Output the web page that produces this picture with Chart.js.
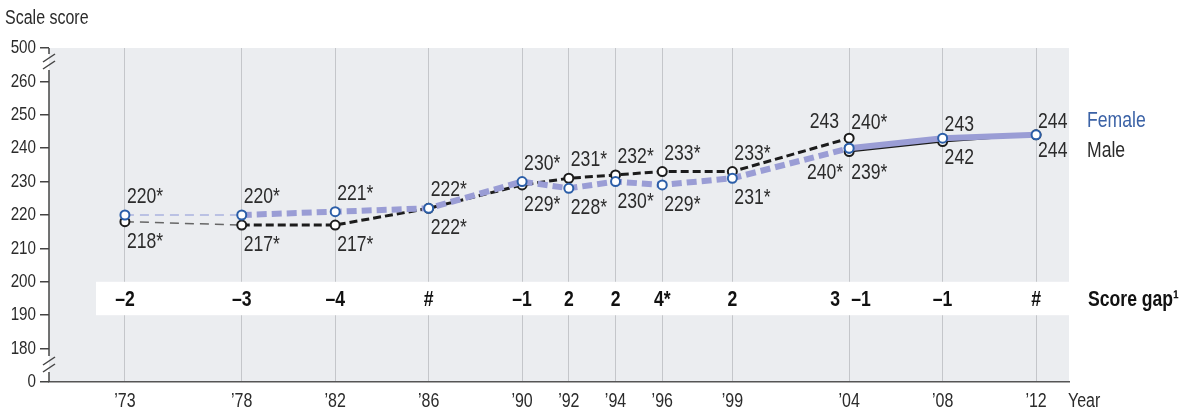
<!DOCTYPE html>
<html>
<head>
<meta charset="utf-8">
<script src="https://cdn.jsdelivr.net/npm/chart.js@4.4.1/dist/chart.umd.min.js"></script>
<style>
  html, body { margin: 0; padding: 0; background: #fff; }
</style>
</head>
<body>
<canvas id="chart" width="1193" height="413"></canvas>
<script>
// data
const yearsOld = [1973, 1978, 1982, 1986, 1990, 1992, 1994, 1996, 1999, 2004];
const yearsNew = [2004, 2008, 2012];
const femaleOld = [220, 220, 221, 222, 230, 228, 230, 229, 231, 240];
const maleOld = [218, 217, 217, 222, 229, 231, 232, 233, 233, 243];
const femaleNew = [240, 243, 244];
const maleNew = [239, 242, 244];
const femaleOldText = ['220*', '220*', '221*', '222*', '230*', '228*', '230*', '229*', '231*', '240*'];
const maleOldText = ['218*', '217*', '217*', '222*', '229*', '231*', '232*', '233*', '233*', '243'];
const femaleNewText = ['240*', '243', '244'];
const maleNewText = ['239*', '242', '244'];
const gapYears = [1973, 1978, 1982, 1986, 1990, 1992, 1994, 1996, 1999, 2004, 2004, 2008, 2012];
const gapText = ['–2', '–3', '–4', '#', '–1', '2', '2', '4*', '2', '3', '–1', '–1', '#'];
const tickYears = [1973, 1978, 1982, 1986, 1990, 1992, 1994, 1996, 1999, 2004, 2008, 2012];
const yTickText = { 170: '0', 270: '500' };

// label placement (a = above, b = below, l/r = left/right of point, A/B = tight)
const femaleOldPos = ['a', 'a', 'a', 'a', 'a', 'b', 'b', 'b', 'b', 'bl'];
const maleOldPos = ['b', 'b', 'b', 'b', 'b', 'a', 'a', 'a', 'a', 'al'];
const femaleNewPos = ['ar', 'A', 'A'];
const maleNewPos = ['br', 'B', 'B'];
const gapAlign = ['center', 'center', 'center', 'center', 'center', 'center', 'center', 'center', 'center', 'right', 'left', 'center', 'center'];

const FONT = '"Liberation Sans", Arial, sans-serif';
const SQUEEZE = 0.8; // fake a condensed face
const TEXT = '#2b2b2b';
const FEMALE_LINE = '#9a9dd5';
const FEMALE_DOT = '#2b5ea8';
const MALE = '#1c1c1c';

const toPts = (xs, ys) => xs.map((x, i) => ({ x: x, y: ys[i] }));

// narrow text: draw squeezed horizontally around the anchor point
function cText(ctx, txt, x, y, align, size, bold, color) {
  ctx.save();
  ctx.font = (bold ? 'bold ' : '') + size + 'px ' + FONT;
  ctx.fillStyle = color;
  ctx.textAlign = align;
  ctx.textBaseline = 'middle';
  ctx.translate(x, y);
  ctx.scale(SQUEEZE, 1);
  ctx.fillText(txt, 0, 0);
  ctx.restore();
}

const plotBack = {
  id: 'plotBack',
  beforeDraw(chart) {
    const { ctx, chartArea: a } = chart;
    ctx.save();
    ctx.fillStyle = '#ebedf0';
    ctx.fillRect(a.left, a.top, a.right - a.left, a.bottom - a.top);
    ctx.restore();
  }
};

const gapBand = {
  id: 'gapBand',
  beforeDatasetsDraw(chart) {
    const { ctx, chartArea: a, scales } = chart;
    const y1 = scales.y.getPixelForValue(200);
    const y2 = scales.y.getPixelForValue(190);
    ctx.save();
    ctx.fillStyle = '#ffffff';
    ctx.fillRect(96, y1, a.right - 96, y2 - y1);
    ctx.restore();
    const yc = (y1 + y2) / 2 + 1;
    gapYears.forEach((yr, i) => {
      let x = scales.x.getPixelForValue(yr);
      if (gapAlign[i] === 'right') x -= 9;
      if (gapAlign[i] === 'left') x += 2;
      cText(ctx, gapText[i], x, yc, gapAlign[i], 22, true, '#111');
    });
    cText(ctx, 'Score gap¹', 1088, yc, 'left', 22, true, '#111');
  }
};

// tick labels, placed from the library's scales
const tickText = {
  id: 'tickText',
  afterDraw(chart) {
    const { ctx, chartArea: a, scales } = chart;
    scales.x.ticks.forEach(t => {
      cText(ctx, '’' + String(t.value).slice(2), scales.x.getPixelForValue(t.value), a.bottom + 19, 'center', 20, false, TEXT);
    });
    scales.y.ticks.forEach(t => {
      const s = yTickText[t.value] !== undefined ? yTickText[t.value] : String(t.value);
      cText(ctx, s, 36, scales.y.getPixelForValue(t.value), 'right', 19, false, TEXT);
    });
    cText(ctx, 'Year', 1068, a.bottom + 19, 'left', 20, false, TEXT);
    cText(ctx, 'Scale score', 5, 18, 'left', 20, false, TEXT);
  }
};

const valueLabels = {
  id: 'valueLabels',
  afterDatasetsDraw(chart) {
    const { ctx } = chart;
    chart.data.datasets.forEach((ds, di) => {
      const meta = chart.getDatasetMeta(di);
      meta.data.forEach((pt, i) => {
        const pos = ds.labelPos[i];
        let x = pt.x + 2, y = pt.y, align = 'left';
        if (pos === 'a') y -= 18;
        else if (pos === 'b') y += 20;
        else if (pos === 'A') y -= 13;
        else if (pos === 'B') y += 16;
        else if (pos === 'al') { align = 'right'; x = pt.x - 10; y -= 16; }
        else if (pos === 'bl') { align = 'right'; x = pt.x - 6; y += 25; }
        else if (pos === 'ar') { y -= 25; }
        else if (pos === 'br') { y += 21; }
        cText(ctx, ds.labelText[i], x, y, align, 22, false, TEXT);
      });
    });
    cText(ctx, 'Female', 1087, 121, 'left', 22, false, '#3b62a6');
    cText(ctx, 'Male', 1087, 151, 'left', 22, false, TEXT);
  }
};

// y axis line with the two breaks
const axisBreaks = {
  id: 'axisBreaks',
  afterDraw(chart) {
    const { ctx, chartArea: a } = chart;
    const x = a.left;
    ctx.save();
    ctx.strokeStyle = '#444';
    ctx.lineWidth = 1.5;
    [[a.top, 54], [70, 356], [372, a.bottom]].forEach(s => {
      ctx.beginPath();
      ctx.moveTo(x, s[0]);
      ctx.lineTo(x, s[1]);
      ctx.stroke();
    });
    [58, 65, 361, 368].forEach(y => {
      ctx.beginPath();
      ctx.moveTo(x - 6, y + 4);
      ctx.lineTo(x + 6, y - 4);
      ctx.stroke();
    });
    ctx.restore();
  }
};

const firstSeg = (a, b) => c => (c.p0DataIndex === 0 ? a : b);

new Chart(document.getElementById('chart'), {
  type: 'line',
  data: {
    datasets: [
      {
        label: 'Female revised',
        data: toPts(yearsNew, femaleNew),
        labelText: femaleNewText,
        labelPos: femaleNewPos,
        borderColor: FEMALE_LINE,
        borderWidth: 6,
        pointBorderColor: FEMALE_DOT,
        pointBackgroundColor: '#fff',
        pointBorderWidth: 2,
        pointRadius: 4.5
      },
      {
        label: 'Female',
        data: toPts(yearsOld, femaleOld),
        labelText: femaleOldText,
        labelPos: femaleOldPos,
        borderColor: FEMALE_LINE,
        borderWidth: 6,
        borderDash: [10, 5],
        segment: {
          borderWidth: firstSeg(1.5, 6),
          borderColor: firstSeg('#aab2de', FEMALE_LINE),
          borderDash: firstSeg([9, 6], [10, 5])
        },
        pointBorderColor: FEMALE_DOT,
        pointBackgroundColor: '#fff',
        pointBorderWidth: 2,
        pointRadius: 4.5
      },
      {
        label: 'Male revised',
        data: toPts(yearsNew, maleNew),
        labelText: maleNewText,
        labelPos: maleNewPos,
        borderColor: MALE,
        borderWidth: 2,
        pointBorderColor: MALE,
        pointBackgroundColor: '#fff',
        pointBorderWidth: 2,
        pointRadius: 4.5
      },
      {
        label: 'Male',
        data: toPts(yearsOld, maleOld),
        labelText: maleOldText,
        labelPos: maleOldPos,
        borderColor: MALE,
        borderWidth: 3,
        borderDash: [8, 4],
        segment: {
          borderWidth: firstSeg(1.5, 3),
          borderColor: firstSeg('#666', MALE),
          borderDash: firstSeg([9, 6], [8, 4])
        },
        pointBorderColor: MALE,
        pointBackgroundColor: '#fff',
        pointBorderWidth: 2,
        pointRadius: 4.5
      }
    ]
  },
  options: {
    responsive: false,
    animation: false,
    devicePixelRatio: 1,
    layout: { padding: { top: 48, right: 124, left: 0, bottom: 0 } },
    plugins: { legend: { display: false }, tooltip: { enabled: false } },
    scales: {
      x: {
        type: 'linear',
        min: 1969.75,
        max: 2013.41,
        afterBuildTicks: s => { s.ticks = tickYears.map(v => ({ value: v })); },
        afterFit: s => { s.height = 31; },
        grid: { color: '#c4c6ca', lineWidth: 1, drawTicks: false },
        border: { display: true, color: '#555', width: 1.5 },
        ticks: { display: false, autoSkip: false }
      },
      y: {
        type: 'linear',
        min: 170,
        max: 270,
        afterFit: s => { s.width = 49; },
        grid: { drawOnChartArea: false, tickLength: 9, color: '#444', lineWidth: 1.5 },
        border: { display: false },
        ticks: { display: false, stepSize: 10 }
      }
    }
  },
  plugins: [plotBack, gapBand, valueLabels, axisBreaks, tickText]
});
</script>
</body>
</html>
